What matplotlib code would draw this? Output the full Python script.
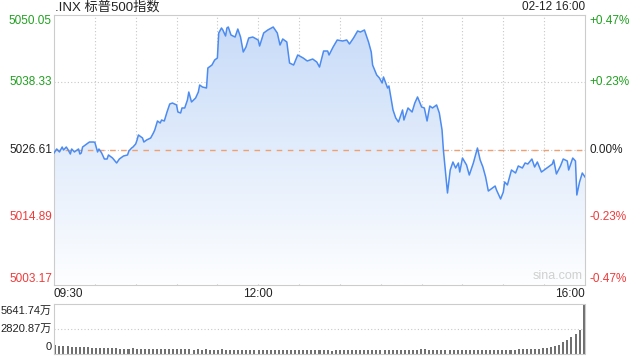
import matplotlib
matplotlib.use('Agg')
import matplotlib.pyplot as plt
import numpy as np
from matplotlib.transforms import blended_transform_factory
from matplotlib.colors import to_rgb

plt.rcParams['font.family'] = ['Liberation Sans', 'Noto Sans CJK SC', 'DejaVu Sans']

# minutes after 09:30
t_min = [0, 2, 4, 6, 7, 9, 10, 12, 13, 15,
         18, 19, 20, 21, 24, 26, 29, 30, 32, 33,
         35, 37, 39, 40, 42, 43, 46, 48, 51, 54,
         55, 57, 58, 60, 61, 62, 65, 66, 68, 71,
         73, 74, 76, 78, 79, 81, 83, 85, 87, 90,
         91, 93, 94, 96, 98, 99, 101, 104, 106, 107,
         109, 112, 113, 116, 118, 120, 121, 123, 124, 126,
         127, 128, 130, 133, 135, 137, 139, 141, 143, 146,
         150, 151, 154, 157, 161, 164, 166, 168, 171, 173,
         176, 179, 183, 186, 190, 193, 195, 198, 201, 202,
         205, 208, 212, 215, 217, 220, 223, 225, 228, 231,
         233, 234, 237, 239, 241, 242, 245, 246, 249, 251,
         253, 256, 257, 260, 263, 265, 267, 270, 272, 274,
         276, 278, 281, 283, 285, 286, 289, 291, 293, 295,
         297, 298, 300, 303, 305, 308, 311, 313, 315, 317,
         319, 322, 324, 325, 328, 330, 331, 333, 336, 339,
         341, 344, 346, 348, 351, 353, 355, 358, 360, 363,
         366, 367, 369, 372, 374, 377, 378, 381, 383, 384,
         386, 388, 390]

price = [5026.00, 5026.70, 5026.18, 5027.04, 5026.52, 5027.04, 5026.70, 5025.83, 5026.70, 5026.18,
         5026.70, 5025.83, 5026.00, 5027.04, 5027.57, 5027.91, 5027.91, 5027.85, 5026.18, 5026.70,
         5026.00, 5024.96, 5024.96, 5025.66, 5025.31, 5025.13, 5024.27, 5024.96, 5025.48, 5025.66,
         5026.35, 5026.87, 5027.04, 5027.57, 5028.26, 5029.13, 5028.61, 5027.91, 5028.26, 5028.61,
         5029.48, 5030.00, 5031.56, 5031.21, 5031.73, 5031.56, 5033.12, 5034.51, 5034.68, 5034.34,
         5033.12, 5032.95, 5033.82, 5033.82, 5035.21, 5036.59, 5034.86, 5035.55, 5036.59, 5037.81,
         5037.46, 5037.29, 5040.76, 5041.28, 5042.15, 5042.50, 5046.84, 5047.71, 5047.36, 5046.32,
         5047.71, 5047.88, 5046.49, 5046.14, 5047.53, 5046.14, 5043.54, 5044.41, 5045.97, 5046.14,
         5045.62, 5044.58, 5046.84, 5047.36, 5047.88, 5046.84, 5044.75, 5045.80, 5045.28, 5041.63,
         5041.28, 5043.02, 5042.50, 5041.98, 5042.32, 5041.80, 5040.93, 5043.71, 5043.71, 5043.02,
         5044.41, 5045.62, 5045.45, 5045.62, 5044.93, 5045.97, 5047.19, 5047.01, 5047.36, 5045.28,
         5043.54, 5041.28, 5039.55, 5039.03, 5038.16, 5039.20, 5037.29, 5037.64, 5033.47, 5032.08,
         5031.39, 5033.47, 5031.73, 5033.82, 5033.12, 5034.68, 5035.73, 5033.99, 5033.82, 5031.56,
         5034.16, 5033.82, 5034.34, 5032.95, 5030.00, 5026.52, 5019.06, 5023.05, 5024.44, 5023.40,
         5024.27, 5022.70, 5025.13, 5023.92, 5022.18, 5024.27, 5026.87, 5024.79, 5023.57, 5021.84,
         5019.40, 5019.93, 5020.27, 5019.58, 5018.02, 5019.23, 5020.97, 5020.45, 5023.05, 5022.53,
         5023.75, 5023.40, 5024.27, 5024.09, 5024.96, 5023.57, 5024.44, 5022.70, 5023.05, 5023.57,
         5024.09, 5024.79, 5022.36, 5023.75, 5024.96, 5024.61, 5023.05, 5025.13, 5024.61, 5018.71,
         5020.97, 5022.53, 5021.84]

prev_close = 5026.61
y_levels = [5003.17, 5014.89, 5026.61, 5038.33, 5050.05]

# volume, 3-minute buckets, unit 万
vol = [980, 900, 860, 880, 820, 800, 760, 780, 740, 720,
       700, 690, 720, 660, 650, 640, 620, 610, 600, 640,
       580, 600, 560, 570, 590, 550, 560, 540, 560, 530,
       540, 520, 510, 530, 500, 520, 490, 510, 500, 480,
       470, 520, 500, 490, 480, 470, 490, 460, 470, 480,
       450, 440, 460, 430, 450, 440, 430, 420, 450, 430,
       420, 410, 430, 400, 420, 410, 400, 420, 390, 410,
       400, 420, 410, 430, 440, 460, 450, 430, 420, 410,
       440, 470, 460, 450, 430, 420, 410, 440, 430, 420,
       540, 520, 480, 460, 450, 440, 430, 420, 440, 430,
       420, 440, 430, 450, 460, 440, 430, 450, 470, 460,
       480, 470, 490, 500, 510, 520, 540, 560, 580, 600,
       640, 700, 780, 900, 1050, 1300, 1600, 1900, 2300, 2700,
       5641.74]
vol_t = [3 * i for i in range(len(vol))]
vol_max = 5641.74

x_ticks = [0, 150, 390]
x_labels = ['09:30', '12:00', '16:00']

green = '#1fa01f'
red = '#f03a3a'
black = '#222222'
grid_c = '#c8c8c8'

fig = plt.figure(figsize=(6.4, 3.6), dpi=100)
ax = fig.add_axes([54 / 640, 1 - 284.5 / 360, 531 / 640, 270 / 360])
axv = fig.add_axes([54 / 640, 1 - 354 / 360, 531 / 640, 50 / 360])

ax.set_xlim(0, 390)
ax.set_ylim(y_levels[0], y_levels[-1])

# gradient fill under the line
poly = ax.fill_between(t_min, price, y_levels[0], color='none', lw=0)
top_c = np.array(to_rgb('#c6daf8'))
bot_c = np.array(to_rgb('#fdfeff'))
g = np.linspace(0, 1, 256)[:, None]
img = (top_c * (1 - g) + bot_c * g)[:, None, :]
im = ax.imshow(img, extent=[0, 390, y_levels[0], y_levels[-1]], aspect='auto',
               origin='upper', zorder=1)
im.set_clip_path(poly.get_paths()[0], transform=ax.transData)

ax.plot(t_min, price, color='#4c8bf0', lw=1.1, zorder=3)
ax.axhline(prev_close, color='#f0a070', lw=1, dashes=(4, 4), zorder=2)

for x in range(30, 390, 30):
    ax.axvline(x, color=grid_c, lw=0.8, ls=(0, (1, 2)), zorder=0)
for y in y_levels[1:-1]:
    ax.axhline(y, color=grid_c, lw=0.8, ls=(0, (1, 2)), zorder=0)

for s in ax.spines.values():
    s.set_color('#cccccc')
ax.set_xticks([])
ax.set_yticks([])

tr = blended_transform_factory(ax.transAxes, ax.transData)
for i, y in enumerate(y_levels):
    pct = (y - prev_close) / prev_close * 100
    if pct > 0.001:
        c = green
        ptxt = '+%.2f%%' % pct
    elif pct < -0.001:
        c = red
        ptxt = '%.2f%%' % pct
    else:
        c = black
        ptxt = '0.00%'
    va = 'center'
    if i == 0:
        va = 'bottom'
    elif i == len(y_levels) - 1:
        va = 'top'
    ax.text(-0.004, y, '%.2f' % y, transform=tr, ha='right', va=va,
            color=c, fontsize=8.5)
    ax.text(1.009, y, ptxt, transform=tr, ha='left', va=va,
            color=c, fontsize=8.5)

fig.text(55 / 640, 1 - 7.5 / 360, '.INX 标普500指数', ha='left', va='center',
         fontsize=9.5, color=black)
fig.text(585 / 640, 1 - 7.5 / 360, '02-12 16:00', ha='right', va='center',
         fontsize=8.5, color=black)
ax.text(0.995, 0.01, 'sina.com', transform=ax.transAxes, ha='right',
        va='bottom', fontsize=9, color='#d0d0d0')

txr = blended_transform_factory(ax.transData, ax.transAxes)
for x, lab in zip(x_ticks, x_labels):
    ha = 'center'
    if x == x_ticks[0]:
        ha = 'left'
    elif x == x_ticks[-1]:
        ha = 'right'
    ax.text(x, -0.012, lab, transform=txr, ha=ha, va='top',
            fontsize=8.5, color=black)

# volume panel
axv.set_xlim(-1, 391)
axv.set_ylim(0, vol_max)
axv.bar(vol_t, vol, width=1.5, color='#707070', align='center', zorder=2)
axv.axhline(vol_max / 2, color=grid_c, lw=0.8, ls=(0, (1, 2)), zorder=0)
for s in axv.spines.values():
    s.set_color('#cccccc')
    s.set_linestyle((0, (1, 1)))
axv.set_xticks([])
axv.set_yticks([])
tv = blended_transform_factory(axv.transAxes, axv.transData)
axv.text(-0.004, vol_max * 0.97, '%.2f万' % vol_max, transform=tv, ha='right',
         va='top', fontsize=8, color=black)
axv.text(-0.004, vol_max / 2, '%.2f万' % (vol_max / 2), transform=tv,
         ha='right', va='center', fontsize=8, color=black)
axv.text(-0.004, vol_max * 0.05, '0', transform=tv, ha='right', va='bottom',
         fontsize=8, color=black)

fig.savefig('out.png', dpi=100)
